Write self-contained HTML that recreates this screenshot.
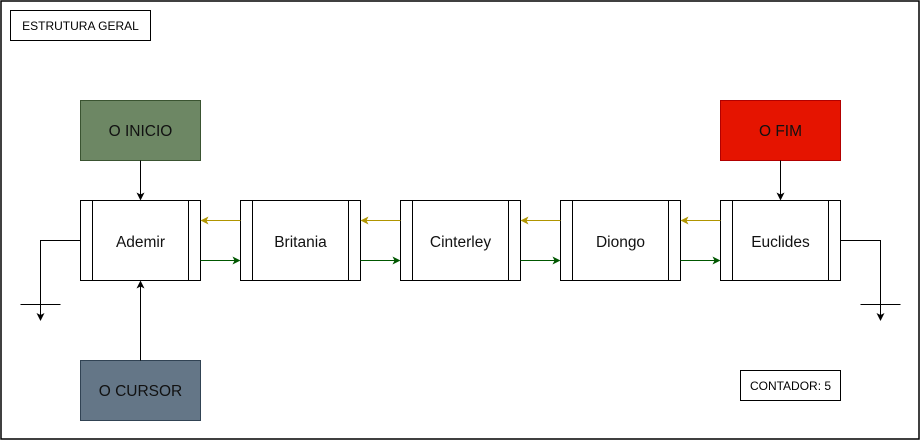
<!DOCTYPE html>
<html><head><meta charset="utf-8"><style>
html,body{margin:0;padding:0;background:#fff;}
svg{display:block;}
text{font-family:"Liberation Sans",Arial,sans-serif;}
</style></head><body>
<svg width="921" height="441" viewBox="0 0 921 441" xmlns="http://www.w3.org/2000/svg">
<defs>
<marker id="ak" markerWidth="8" markerHeight="8" refX="7" refY="4" orient="auto" markerUnits="userSpaceOnUse"><path d="M0,0 L8,4 L0,8 L2,4 z" fill="#000"/></marker>
<marker id="ag" markerWidth="8" markerHeight="8" refX="7" refY="4" orient="auto" markerUnits="userSpaceOnUse"><path d="M0,0 L8,4 L0,8 L2,4 z" fill="#005700"/></marker>
<marker id="ay" markerWidth="8" markerHeight="8" refX="7" refY="4" orient="auto" markerUnits="userSpaceOnUse"><path d="M0,0 L8,4 L0,8 L2,4 z" fill="#B09500"/></marker>
</defs>
<rect x="1" y="1" width="918" height="438" fill="#fff" stroke="#000" stroke-width="1.5"/>
<rect x="10.5" y="10.5" width="140" height="30" fill="#fff" stroke="#000"/>
<text x="80.5" y="30" font-size="12" text-anchor="middle">ESTRUTURA GERAL</text>
<rect x="740.5" y="370.5" width="100" height="30" fill="#fff" stroke="#000"/>
<text x="790.5" y="390" font-size="12" text-anchor="middle">CONTADOR: 5</text>

<rect x="80.5" y="100.5" width="120" height="60" fill="#6d8764" stroke="#3A5431"/>
<text x="140.5" y="136" font-size="15.5" text-anchor="middle" fill="#111">O INICIO</text>
<rect x="720.5" y="100.5" width="120" height="60" fill="#e51400" stroke="#B20000"/>
<text x="780.5" y="136" font-size="15.5" text-anchor="middle" fill="#111">O FIM</text>
<rect x="80.5" y="360.5" width="120" height="60" fill="#647687" stroke="#314354"/>
<text x="140.5" y="396" font-size="15.5" text-anchor="middle" fill="#111">O CURSOR</text>

<g stroke="#000" fill="#fff">
<rect x="80.5" y="200.5" width="120" height="80"/><line x1="92.5" y1="200.5" x2="92.5" y2="280.5"/><line x1="188.5" y1="200.5" x2="188.5" y2="280.5"/>
<rect x="240.5" y="200.5" width="120" height="80"/><line x1="252.5" y1="200.5" x2="252.5" y2="280.5"/><line x1="348.5" y1="200.5" x2="348.5" y2="280.5"/>
<rect x="400.5" y="200.5" width="120" height="80"/><line x1="412.5" y1="200.5" x2="412.5" y2="280.5"/><line x1="508.5" y1="200.5" x2="508.5" y2="280.5"/>
<rect x="560.5" y="200.5" width="120" height="80"/><line x1="572.5" y1="200.5" x2="572.5" y2="280.5"/><line x1="668.5" y1="200.5" x2="668.5" y2="280.5"/>
<rect x="720.5" y="200.5" width="120" height="80"/><line x1="732.5" y1="200.5" x2="732.5" y2="280.5"/><line x1="828.5" y1="200.5" x2="828.5" y2="280.5"/>
</g>
<g font-size="15.5" text-anchor="middle" fill="#111">
<text x="140.5" y="247">Ademir</text>
<text x="300.5" y="247">Britania</text>
<text x="460.5" y="247">Cinterley</text>
<text x="620.5" y="247">Diongo</text>
<text x="780.5" y="247">Euclides</text>
</g>

<g stroke="#B09500" fill="none" marker-end="url(#ay)">
<line x1="240.5" y1="220.5" x2="201.5" y2="220.5"/>
<line x1="400.5" y1="220.5" x2="361.5" y2="220.5"/>
<line x1="560.5" y1="220.5" x2="521.5" y2="220.5"/>
<line x1="720.5" y1="220.5" x2="681.5" y2="220.5"/>
</g>
<g stroke="#005700" fill="none" marker-end="url(#ag)">
<line x1="200.5" y1="260.5" x2="239.5" y2="260.5"/>
<line x1="360.5" y1="260.5" x2="399.5" y2="260.5"/>
<line x1="520.5" y1="260.5" x2="559.5" y2="260.5"/>
<line x1="680.5" y1="260.5" x2="719.5" y2="260.5"/>
</g>

<g stroke="#000" fill="none">
<line x1="140.5" y1="160.5" x2="140.5" y2="199.5" marker-end="url(#ak)"/>
<line x1="780.5" y1="160.5" x2="780.5" y2="199.5" marker-end="url(#ak)"/>
<line x1="140.5" y1="360.5" x2="140.5" y2="281.5" marker-end="url(#ak)"/>
<polyline points="80.5,240.5 40.5,240.5 40.5,320" marker-end="url(#ak)"/>
<line x1="20.5" y1="304.5" x2="60.5" y2="304.5"/>
<polyline points="840.5,240.5 880.5,240.5 880.5,320" marker-end="url(#ak)"/>
<line x1="860.5" y1="304.5" x2="900.5" y2="304.5"/>
</g>
</svg>
</body></html>
